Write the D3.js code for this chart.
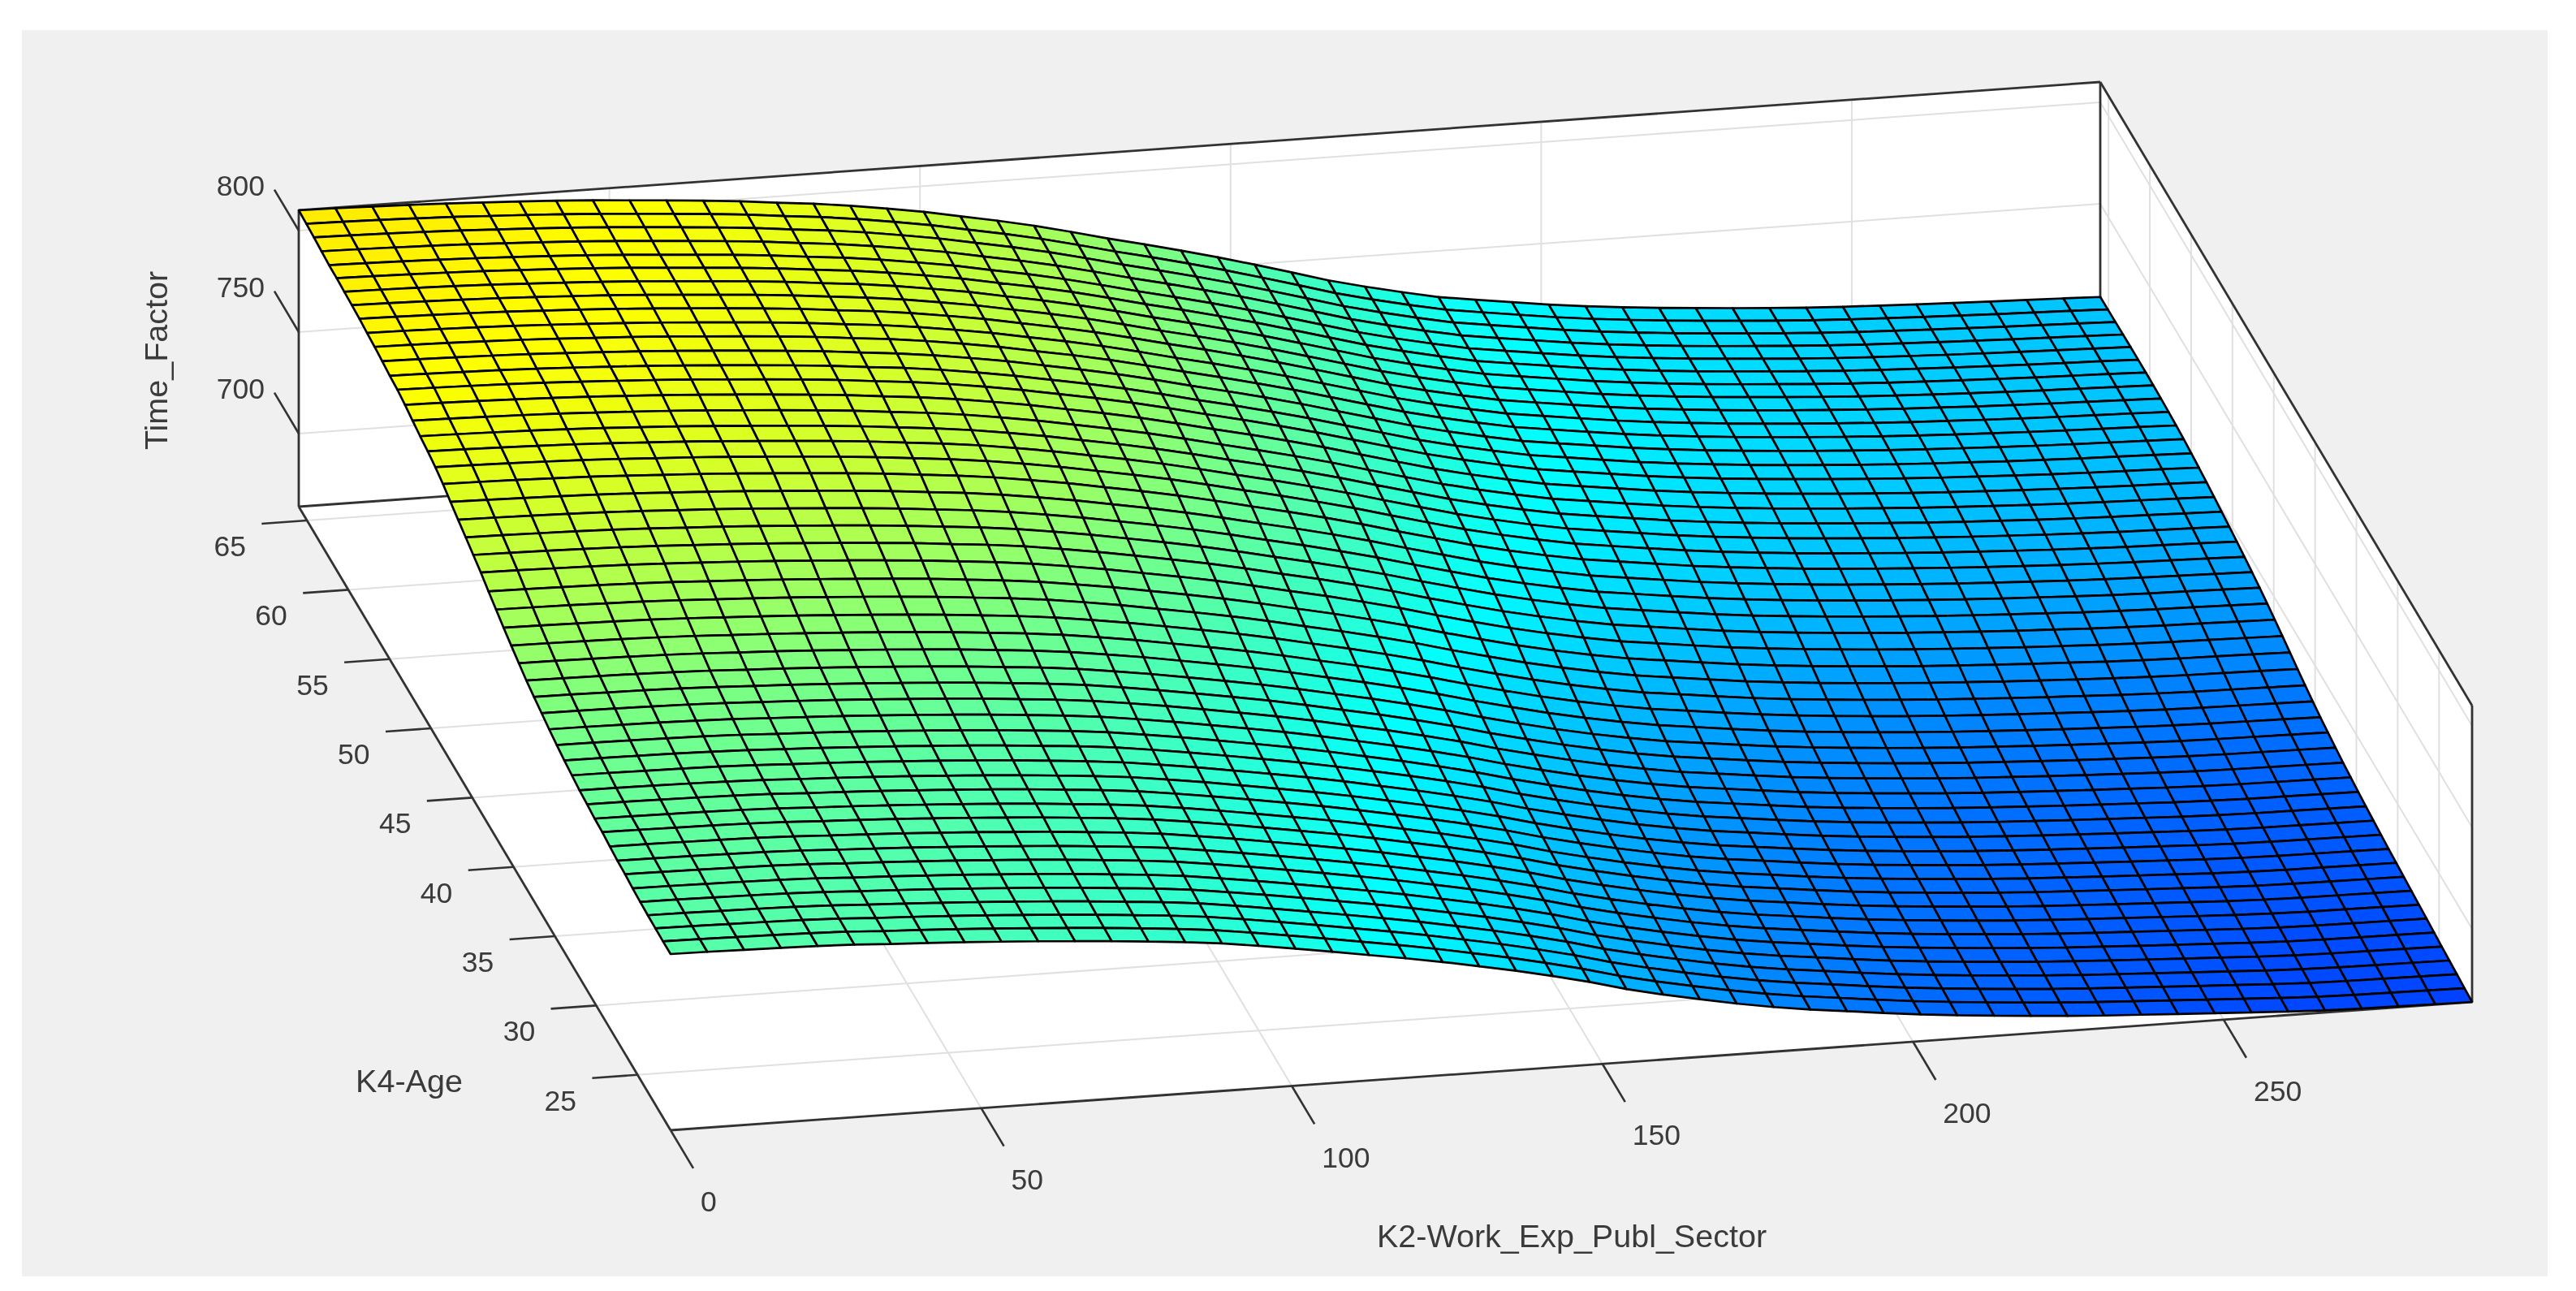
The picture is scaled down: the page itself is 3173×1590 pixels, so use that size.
<!DOCTYPE html>
<html><head><meta charset="utf-8">
<script src="https://d3js.org/d3.v7.min.js"></script>
<style>html,body{margin:0;padding:0;background:#fff}svg{display:block}text{font-family:"Liberation Sans",Arial,sans-serif;fill:#3a3a3a}</style>
</head><body><div id="chart"></div>
<script>
const xTicks=[0,50,100,150,200,250];
const yTicks=[25,30,35,40,45,50,55,60,65];
const zTicks=[700,750,800];
const xLabel="K2-Work_Exp_Publ_Sector", yLabel="K4-Age", zLabel="Time_Factor";
const xRange=[0,290], yRange=[21,66], zRange=[664,810];

// Time_Factor, one value per mesh line.
const zFront=[750.8,750.6,750.3,750.0,749.6,749.0,748.0,747.2,746.3,745.3,744.2,743.0,741.7,740.2,738.6,736.7,734.2,731.5,728.7,725.8,722.9,719.8,716.4,712.9,709.0,704.8,700.0,696.0,692.4,689.0,686.0,683.5,681.4,679.2,677.2,675.5,674.0,672.6,671.3,670.2,669.3,668.4,667.5,666.6,665.7,665.0,664.6,664.4,664.2,664.0];
const zBack=[810.0,809.7,809.3,808.8,808.2,807.4,806.6,805.7,804.6,803.3,802.0,800.6,799.0,797.0,795.2,792.9,790.2,787.3,783.8,780.4,776.6,772.3,767.8,763.6,759.2,754.6,749.7,744.6,739.4,735.0,731.0,727.3,724.7,722.2,719.7,717.6,715.8,714.2,712.8,711.5,710.3,709.2,708.3,707.6,706.9,706.3,705.7,705.2,704.7,704.1];
const zLeft=[810.0,809.6,809.2,808.6,808.0,807.9,807.5,807.1,806.7,806.0,805.4,804.6,803.7,803.1,801.9,800.4,799.0,797.8,796.3,794.3,791.7,789.2,786.8,784.4,782.0,779.0,776.3,773.6,771.1,768.7,766.4,764.6,762.9,761.2,759.7,758.4,757.3,756.2,755.6,754.8,754.4,753.6,752.9,752.5,751.8,751.4,751.1,750.9,750.8,750.8];
const zRight=[704.1,704.2,704.3,704.4,704.5,704.5,704.5,704.4,704.2,703.9,703.5,703.0,702.3,701.5,700.6,699.6,698.6,697.5,696.4,695.2,693.9,692.5,691.0,689.3,687.5,685.7,683.8,682.0,680.4,678.9,677.6,676.4,675.3,674.3,673.4,672.6,671.8,671.1,670.4,669.8,669.2,668.6,668.0,667.4,666.8,666.2,665.6,665.1,664.5,664.0];

const W=3173,H=1590;
const svg=d3.select("#chart").append("svg").attr("width",W).attr("height",H);
const defs=svg.append("defs");
defs.append("filter").attr("id","soft").attr("filterUnits","userSpaceOnUse")
  .attr("x",0).attr("y",0).attr("width",W).attr("height",H)
  .append("feGaussianBlur").attr("stdDeviation",0.55);
svg.append("rect").attr("width",W).attr("height",H).attr("fill","#fff");
svg.append("rect").attr("x",27).attr("y",37).attr("width",3111).attr("height",1535).attr("fill","#f0f0f0");
const g=svg.append("g").attr("filter","url(#soft)");

// Oblique projection of the data box on the page.
const xSx=d3.scaleLinear().domain(xRange).range([826,3045]);
const xSy=d3.scaleLinear().domain(xRange).range([0,-158]);
const ySx=d3.scaleLinear().domain(yRange).range([0,-458]);
const ySy=d3.scaleLinear().domain(yRange).range([1392,624]);
const zSy=d3.scaleLinear().domain(zRange).range([0,-365]);
const P=(x,y,z)=>[xSx(x)+ySx(y),ySy(y)+xSy(x)+zSy(z)];
const [x0,x1]=xRange,[y0,y1]=yRange,[z0,z1]=zRange;

const level=d3.scaleLinear().domain(zRange).range([0.19,0.645]);
const jet=d3.scaleLinear().domain([0,.125,.375,.625,.875,1])
  .range(["#000080","#0000ff","#00ffff","#ffff00","#ff0000","#800000"]);
const line=d3.line();

// wall and floor panel
g.append("path").attr("fill","#fff").attr("d",line([P(x0,y1,z1),P(x1,y1,z1),P(x1,y0,z1),P(x1,y0,z0),P(x0,y0,z0),P(x0,y1,z0)])+"Z");

// grid
const grid=[];
xTicks.forEach(t=>{grid.push([P(t,y0,z0),P(t,y1,z0)],[P(t,y1,z0),P(t,y1,z1)]);});
yTicks.forEach(t=>{grid.push([P(x0,t,z0),P(x1,t,z0)],[P(x1,t,z0),P(x1,t,z1)]);});
zTicks.forEach(t=>{grid.push([P(x0,y1,t),P(x1,y1,t)],[P(x1,y1,t),P(x1,y0,t)]);});
g.append("g").selectAll("path").data(grid).join("path").attr("d",line)
  .attr("fill","none").attr("stroke","#e0e0e0").attr("stroke-width",2);

// box edges
const box=[[P(x0,y1,z0),P(x0,y1,z1)],[P(x0,y1,z1),P(x1,y1,z1)],[P(x1,y1,z0),P(x1,y1,z1)],[P(x1,y1,z1),P(x1,y0,z1)],[P(x1,y0,z1),P(x1,y0,z0)],
  [P(x0,y0,z0),P(x1,y0,z0)],[P(x0,y1,z0),P(x0,y0,z0)],[P(x0,y1,z0),P(x1,y1,z0)]];
g.append("g").selectAll("path").data(box).join("path").attr("d",line)
  .attr("fill","none").attr("stroke","#333").attr("stroke-width",2.8);

// surface mesh: nodes between the edge readings
const n=zFront.length-1;
const zAt=(i,j)=>{ // i along x, j from back (age max) to front (age min)
  const u=i/n,v=j/n;
  return (1-v)*zBack[i]+v*zFront[i]+(1-u)*zLeft[j]+u*zRight[j]
    -((1-u)*(1-v)*zBack[0]+u*(1-v)*zBack[n]+(1-u)*v*zFront[0]+u*v*zFront[n]);
};
const xAt=d3.scaleLinear().domain([0,n]).range(xRange), yAt=d3.scaleLinear().domain([0,n]).range([y1,y0]);
const cells=[];
for(let j=0;j<n;j++)for(let i=0;i<n;i++){
  const c=[[i,j],[i+1,j],[i+1,j+1],[i,j+1]];
  cells.push({z:d3.mean(c,d=>zAt(d[0],d[1])),pts:c.map(d=>P(xAt(d[0]),yAt(d[1]),zAt(d[0],d[1])))});
}
g.append("g").selectAll("path").data(cells).join("path")
  .attr("d",d=>line(d.pts)+"Z").attr("fill",d=>jet(level(d.z)))
  .attr("stroke","#000").attr("stroke-width",2.7).attr("stroke-linejoin","round");

// ticks
const tz=zTicks.map(t=>({t,a:P(x0,y1,t),b:P(x0,y1+2.95,t)}));
const ty=yTicks.map(t=>({t,a:P(x0,t,z0),b:P(x0-7.3,t,z0)}));
const tx=xTicks.map(t=>({t,a:P(t,y0,z0),b:P(t,y0-2.75,z0)}));
g.append("g").selectAll("path").data([...tz,...ty,...tx]).join("path").attr("d",d=>line([d.a,d.b]))
  .attr("stroke","#333").attr("stroke-width",2.6).attr("fill","none");

const tick=(data,dx,dy,anchor)=>g.append("g").selectAll("text").data(data).join("text")
  .attr("x",d=>d.a[0]+dx).attr("y",d=>d.a[1]+dy).attr("text-anchor",anchor)
  .attr("dominant-baseline","central").attr("font-size",35.5).text(d=>d.t);
tick(tz,-42,-55,"end");
tick(ty,-95,32,"middle");
tick(tx,37,88,"start");

g.append("text").attr("transform","translate(192,444) rotate(-90)").attr("text-anchor","middle")
  .attr("dominant-baseline","central").attr("font-size",39.5).text(zLabel);
g.append("text").attr("x",504).attr("y",1331).attr("text-anchor","middle")
  .attr("dominant-baseline","central").attr("font-size",39.5).text(yLabel);
g.append("text").attr("x",1936).attr("y",1522).attr("text-anchor","middle")
  .attr("dominant-baseline","central").attr("font-size",39.5).text(xLabel);
</script></body></html>
